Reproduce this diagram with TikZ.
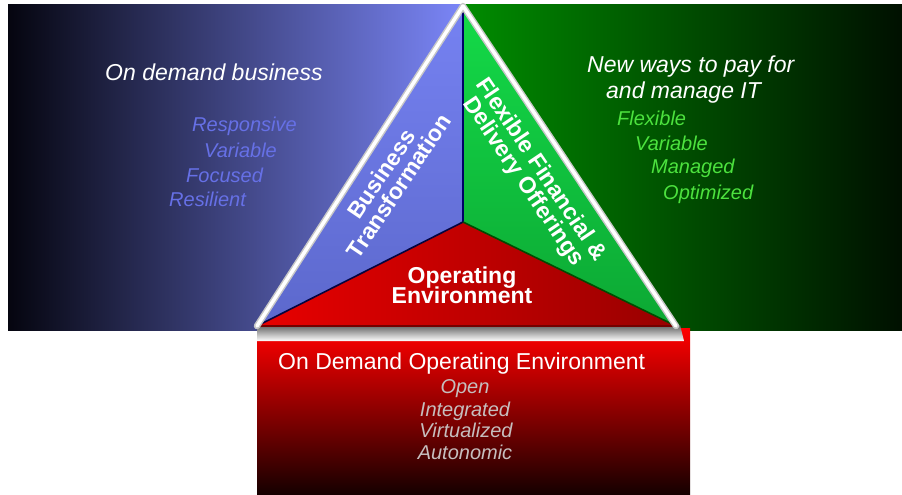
\documentclass[tikz,border=0pt]{standalone}
\usepackage{fontspec}
\setmainfont{Liberation Sans}
\definecolor{bizdark}{HTML}{05050F}
\definecolor{bizlight}{HTML}{7B86F8}
\definecolor{paygreen}{HTML}{008C00}
\definecolor{paydark}{HTML}{001000}
\definecolor{facetop}{HTML}{7682F2}
\definecolor{facebot}{HTML}{5C68CC}
\definecolor{greentop}{HTML}{14DA48}
\definecolor{greenbot}{HTML}{0CA834}
\definecolor{redleft}{HTML}{E80000}
\definecolor{redright}{HTML}{980000}
\definecolor{bluesub}{HTML}{6670E6}
\definecolor{greensub}{HTML}{4CE23E}
\definecolor{graysub}{HTML}{C6BEBE}
\newcommand{\myedgegray}{black!22}
\tikzset{
  headtext/.style = {text = white, font = \itshape\fontsize{23}{27}\selectfont, anchor = base west, inner sep = 0},
  subtext/.style = {font = \itshape\fontsize{20}{24}\selectfont, anchor = base west, inner sep = 0},
  listtext/.style = {text = graysub, font = \itshape\fontsize{20}{24}\selectfont, anchor = base, inner sep = 0},
  facetext/.style = {text = white, font = \bfseries\fontsize{23}{21.5}\selectfont, align = center, inner sep = 0}
}

\begin{document}
\begin{tikzpicture}[x=1pt, y=-1pt]
\useasboundingbox (0,0) rectangle (902,495);
\shade[left color = bizdark, right color = bizlight] (8,5) rectangle (463,330);
\shade[left color = paygreen, right color = paydark] (463,5) rectangle (902,330);
\shade[top color = red, bottom color = black!92!red] (257,328) rectangle (690,495);
\coordinate (apex) at (463,6);
\coordinate (lcorner) at (257,326);
\coordinate (rcorner) at (676,326);
\coordinate (mid) at (463,222);
\shade[top color = black!62, bottom color = white] (257,325) -- (680,325) -- (684,341) -- (257,341) -- cycle;
\shade[draw = none, top color = facetop, bottom color = facebot] (apex) -- (lcorner) -- (mid) -- cycle;
\shade[draw = none, top color = greentop, bottom color = greenbot] (apex) -- (mid) -- (rcorner) -- cycle;
\shade[draw = none, left color = redleft, right color = redright] (lcorner) -- (mid) -- (rcorner) -- cycle;
\draw[line width = 1.6, black!60!blue] (apex) -- (mid);
\draw[line width = 1.6, bizdark!80!blue] (lcorner) -- (mid);
\draw[line width = 1.6, black!70!green] (mid) -- (rcorner);
\draw[line width = 2, red!45!black] (lcorner) -- (rcorner);
\draw[line width = 6.5, \myedgegray, line join = round, line cap = round] (lcorner) -- (apex) -- (rcorner);
\draw[line width = 3.5, white, line join = round, line cap = round] (lcorner) -- (apex) -- (rcorner);
\node[headtext] (odbiz) at (105,81) {On demand business};
\node[subtext, text = bluesub] (responsive) at (192,131) {Responsive};
\node[subtext, text = bluesub] (variable) at (204,157) {Variable};
\node[subtext, text = bluesub] (focused) at (186,182) {Focused};
\node[subtext, text = bluesub] (resilient) at (169,206) {Resilient};
\node[headtext] (newways) at (587,73) {New ways to pay for};
\node[headtext] (manageit) at (606,99) {and manage IT};
\node[subtext, text = greensub] (flexible) at (617,125) {Flexible};
\node[subtext, text = greensub] (varpay) at (635,150) {Variable};
\node[subtext, text = greensub] (managed) at (651,173) {Managed};
\node[subtext, text = greensub] (optimized) at (663,199) {Optimized};
\node[facetext, rotate = 56] (biztrans) at (390,180) {Business\\Transformation};
\node[facetext, rotate = -56] (flexfin) at (532,176) {Flexible Financial \&\\Delivery Offerings};
\node[facetext, anchor = base] (operating) at (462,283) {Operating};
\node[facetext, anchor = base] (environment) at (462,303) {Environment};
\node[text = white, font = \fontsize{23}{27}\selectfont, anchor = base west, inner sep = 0] (odoe) at (278,369) {On Demand Operating Environment};
\node[listtext] (open) at (465,393) {Open};
\node[listtext] (integrated) at (465,416) {Integrated};
\node[listtext] (virtualized) at (466,437) {Virtualized};
\node[listtext] (autonomic) at (465,459) {Autonomic};
\end{tikzpicture}
\end{document}
